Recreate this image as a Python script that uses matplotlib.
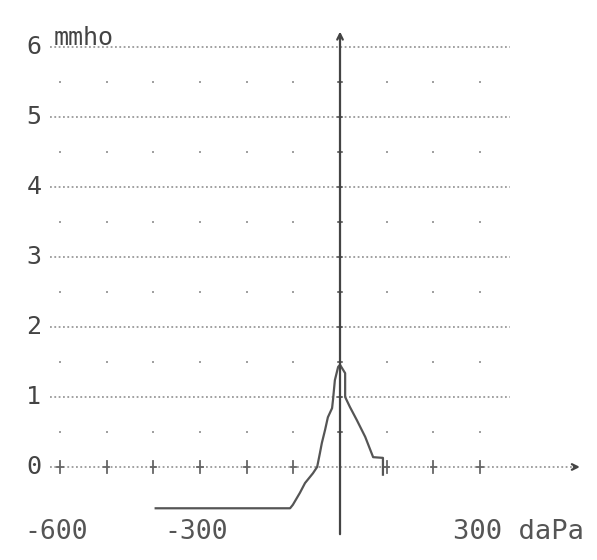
import numpy as np
import matplotlib.pyplot as plt

# tympanogram trace (daPa, mmho)
pressure = [-395, -107, -101, -86, -75, -58, -49, -43, -39, -32, -26, -17, -15,
            -11, -4, 0, 11, 11, 21, 36, 54, 71, 92, 92]
compliance = [-0.59, -0.59, -0.54, -0.37, -0.23, -0.09, 0.0, 0.2, 0.34, 0.53, 0.71,
              0.84, 0.96, 1.24, 1.43, 1.46, 1.34, 1.0, 0.86, 0.67, 0.43, 0.14, 0.13, -0.11]

y_levels = [0, 1, 2, 3, 4, 5, 6]
x_ticks = [-600, -500, -400, -300, -200, -100, 0, 100, 200, 300]
x_labels = {-600: "-600", -300: "-300"}

ink = "#444444"
grid_ink = "#9a9a9a"
font = "DejaVu Sans Mono"

fig = plt.figure(figsize=(5.97, 5.60), dpi=100)
ax = fig.add_axes([0, 0, 1, 1])
ax.set_xlim(-728.6, 550.7)
ax.set_ylim(-1.329, 6.671)
ax.axis("off")

# dotted horizontal lines
for lv in y_levels[1:]:
    ax.plot([-621, 364], [lv, lv], color=grid_ink, lw=1.3, ls=(0, (1, 1.4)))
# x axis, also dotted, with arrow
ax.plot([-621, 505], [0, 0], color=grid_ink, lw=1.3, ls=(0, (1, 1.4)))
ax.annotate("", xy=(520, 0), xytext=(495, 0),
            arrowprops=dict(arrowstyle="->", color=ink, lw=1.6))

# dots at the half levels
half = np.arange(0.5, 6, 1.0)
for hv in half:
    xs = [t for t in x_ticks if t != 0]
    ax.scatter(xs, [hv] * len(xs), s=3.5, color="#a0a0a0", marker="s", lw=0)

# small "+" tick marks on the x axis
for t in x_ticks:
    if t == 0:
        continue
    ax.plot([t, t], [-0.08, 0.08], color="#666666", lw=1.3)
    ax.plot([t - 6, t + 6], [0, 0], color="#666666", lw=1.3)

# y axis
ax.annotate("", xy=(0, 6.26), xytext=(0, -1.0),
            arrowprops=dict(arrowstyle="->", color=ink, lw=1.6))
for hv in np.arange(0.5, 6, 0.5):
    ax.plot([-5, 5], [hv, hv], color=ink, lw=1.1)

# trace
ax.plot(pressure, compliance, color="#555555", lw=1.6)

# labels
for lv in y_levels:
    ax.text(-656, lv, str(lv), ha="center", va="center", fontsize=18,
            family=font, color=ink)
ax.text(-613, 6.03, "mmho", ha="left", va="baseline", fontsize=18,
        family=font, color=ink)
for t, s in x_labels.items():
    ax.text(t - 8, -0.93, s, ha="center", va="center", fontsize=19,
            family=font, color="#555555")
ax.text(242, -0.93, "300 daPa", ha="left", va="center", fontsize=19.5,
        family=font, color="#555555")

fig.savefig("out.png", dpi=100)
